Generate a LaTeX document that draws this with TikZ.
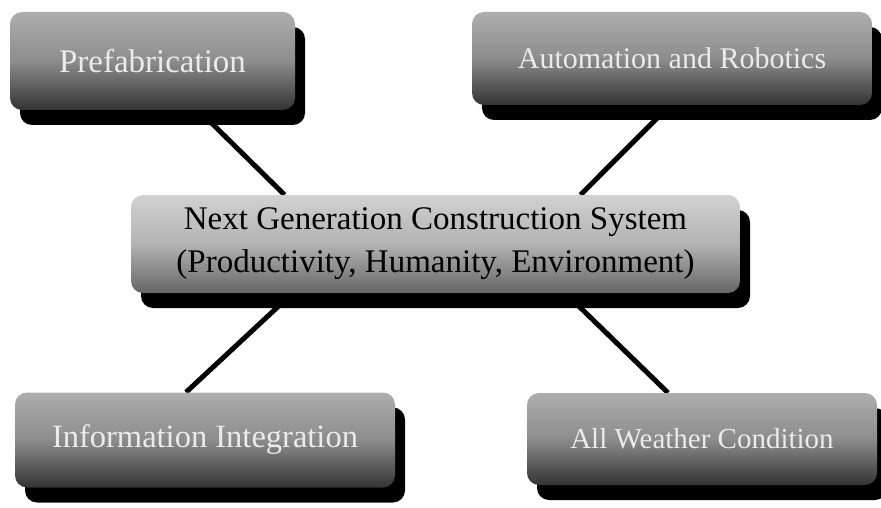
\documentclass[tikz,border=0pt]{standalone}
\usepackage{fontspec}
\setmainfont{Liberation Serif}
\usetikzlibrary{shadows,backgrounds}

\begin{document}
\begin{tikzpicture}[x=1pt,y=-1pt,
    topic/.style={rectangle, rounded corners=12pt, top color=black!32, bottom color=black!80, middle color=black!45,
        text=white!92!black, font=\fontsize{31}{37}\selectfont,
        drop shadow={shadow xshift=10pt, shadow yshift=-15pt, fill=black, opacity=1}},
    core/.style={topic, top color=black!18, bottom color=black!60, middle color=black!30, text=black, align=center,
        font=\fontsize{33}{43}\selectfont},
    link/.style={line width=5pt}]

\useasboundingbox (0,0) rectangle (881,508);

% the hub
\node [core, minimum width=609pt, minimum height=98pt] (cen) at (435.5,244)
    {Next Generation Construction System\\(Productivity, Humanity, Environment)};

% the four topics
\node [topic, minimum width=285pt, minimum height=98pt, font=\fontsize{33}{37}\selectfont] (pre) at (152.5,61) {Prefabrication};
\node [topic, minimum width=400pt, minimum height=93pt, font=\fontsize{30}{36}\selectfont] (aut) at (672,58.5) {Automation and Robotics};
\node [topic, minimum width=380pt, minimum height=95pt, font=\fontsize{32.5}{37}\selectfont] (inf) at (205,440) {Information Integration};
\node [topic, minimum width=350pt, minimum height=92pt, font=\fontsize{29}{35}\selectfont] (wea) at (702,439) {All Weather Condition};

\begin{scope}[on background layer]
\draw [link] ([xshift=46pt]pre.south) -- ([xshift=-151pt]cen.north);
\draw [link] ([xshift=-2pt]aut.south) -- ([xshift=145pt]cen.north);
\draw [link] ([xshift=-143pt]cen.south) -- ([xshift=-19pt]inf.north);
\draw [link] ([xshift=130pt]cen.south) -- ([xshift=-34pt]wea.north);
\end{scope}

\end{tikzpicture}
\end{document}
